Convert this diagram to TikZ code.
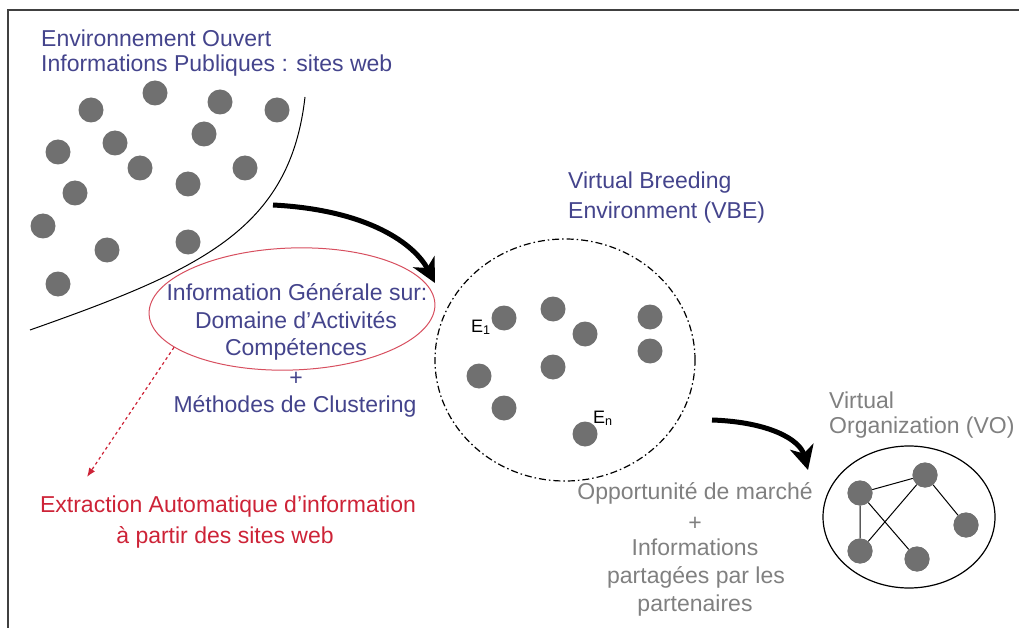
\documentclass[tikz,border=0pt]{standalone}
\usepackage{fontspec}
\setmainfont{Liberation Sans}
\usetikzlibrary{arrows.meta,shapes.geometric}
\definecolor{bleu}{RGB}{68,68,140}
\definecolor{rouge}{RGB}{205,35,55}
\definecolor{gris}{RGB}{128,128,128}
\definecolor{point}{RGB}{112,112,112}
\tikzset{
  pt/.style={shape=circle,fill=point,inner sep=0pt,minimum size=25pt},
  txt/.style={inner sep=0pt,anchor=base,font=\fontsize{23}{27}\selectfont},
  grosse/.style={line width=5pt,-{Stealth[length=24pt,width=24pt,inset=7pt]}},
}
\begin{document}
\begin{tikzpicture}[x=1pt,y=-1pt]
\useasboundingbox (0,0) rectangle (1019,628);
\draw[line width=1.5pt,black!75] (8,628) -- (8,10) -- (1019,10);
% environnement ouvert
\node[txt,anchor=base west,text=bleu] (t1) at (41,47) {Environnement Ouvert};
\node[txt,anchor=base west,text=bleu] (t2) at (41,72) {Informations Publiques : sites web};
\foreach \x/\y [count=\i] in {91/110,155/93,220/102,277/110,58/152,115/143,204/134,140/168,188/184,245/168,75/193,43/226,107/250,188/242,58/284}
  \node[pt] (s\i) at (\x,\y) {};
\draw[line width=1pt] (305,97) .. controls (290,230) and (200,270) .. (30,330);
% information generale
\node[draw=rouge!80,line width=1pt,ellipse,minimum width=286pt,minimum height=122pt,rotate=2] (info) at (292,309) {};
\node[txt,text=bleu] (i1) at (297,300) {Information Générale sur:};
\node[txt,text=bleu] (i2) at (296,328) {Domaine d’Activités};
\node[txt,text=bleu] (i3) at (296,355) {Compétences};
\node[txt,text=bleu] (i4) at (296,385) {+};
\node[txt,text=bleu] (i5) at (295,412) {Méthodes de Clustering};
\coordinate (c1) at (87,477);
\draw[rouge,dashed,line width=1.2pt,-{Latex[length=9pt,width=7pt]}] (info.196) -- (c1);
\node[txt,text=rouge] (x1) at (228,512) {Extraction Automatique d’information};
\node[txt,text=rouge] (x2) at (225,543) {à partir des sites web};
\coordinate (a1) at (273,205);
\coordinate (a2) at (435,283);
\draw[grosse] (a1) .. controls (370,210) and (415,245) .. (a2);
% VBE
\node[txt,anchor=base west,text=bleu] (v1) at (568,189) {Virtual Breeding};
\node[txt,anchor=base west,text=bleu] (v2) at (568,219) {Environment (VBE)};
\node[draw,ellipse,minimum width=260pt,minimum height=242pt,line width=1.2pt,dash pattern=on 7pt off 3pt on 1.5pt off 3pt] (vbe) at (565,360) {};
\foreach \x/\y [count=\i] in {504/318,553/309,585/334,650/317,650/351,553/367,479/376,504/408,585/434}
  \node[pt] (e\i) at (\x,\y) {};
\node[inner sep=0pt,anchor=base west,font=\fontsize{18}{20}\selectfont] (l1) at (471,332) {E\textsubscript{1}};
\node[inner sep=0pt,anchor=base west,font=\fontsize{18}{20}\selectfont] (l2) at (593,423) {E\textsubscript{n}};
\coordinate (b1) at (712,420);
\coordinate (b2) at (808,470);
\draw[grosse] (b1) .. controls (770,422) and (800,440) .. (b2);
% VO
\node[txt,anchor=base west,text=gris] (o6) at (829,408) {Virtual};
\node[txt,anchor=base west,text=gris] (o7) at (829,433) {Organization (VO)};
\node[draw,ellipse,minimum width=172pt,minimum height=142pt,line width=1.2pt] (vo) at (909,517) {};
\foreach \x/\y [count=\i] in {860/493,925/475,966/525,860/551,917/559}
  \node[pt] (o\i) at (\x,\y) {};
\draw[line width=1pt] (o1) -- (o2) -- (o4) -- (o1) -- (o5);
\draw[line width=1pt] (o2) -- (o3);
\foreach \i in {1,...,5} \node[pt] at (o\i) {};
\node[txt,text=gris] (g1) at (695,499) {Opportunité de marché};
\node[txt,text=gris] (g2) at (695,530) {+};
\node[txt,text=gris] (g3) at (695,555) {Informations};
\node[txt,text=gris] (g4) at (696,583) {partagées par les};
\node[txt,text=gris] (g5) at (695,611) {partenaires};
\end{tikzpicture}
\end{document}
